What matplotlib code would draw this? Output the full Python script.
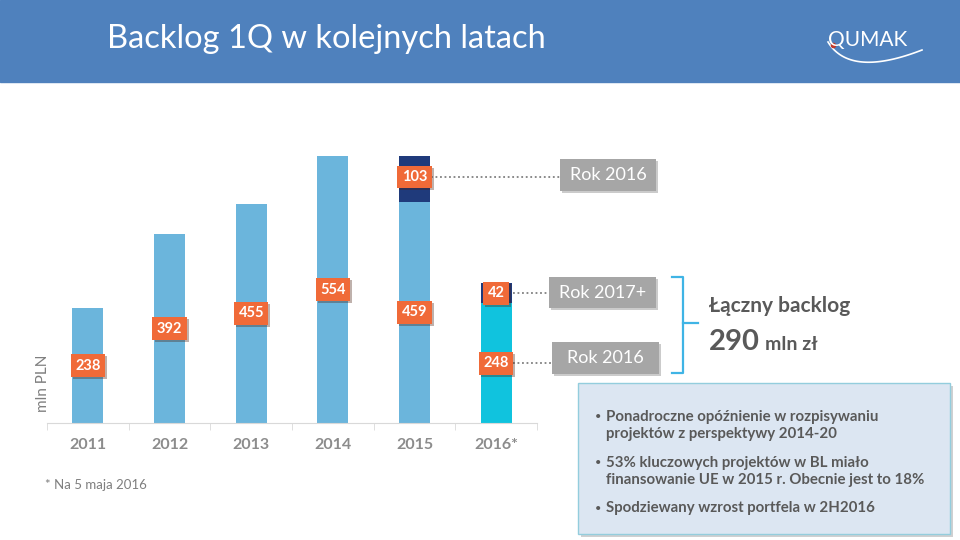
import numpy as np
import matplotlib.pyplot as plt
from matplotlib.patches import Rectangle, FancyBboxPatch
from matplotlib import patheffects as pe

plt.rcParams['font.family'] = ['Lato', 'DejaVu Sans']

years = ['2011', '2012', '2013', '2014', '2015', '2016*']
backlog = [238, 392, 455, 554, 459, 248]
top_part = [0, 0, 0, 0, 103, 42]
top_labels = ['Rok 2016', 'Rok 2017+']
low_label = 'Rok 2016'
bullets = [
    ['Ponadroczne opóźnienie w rozpisywaniu', 'projektów z perspektywy 2014-20'],
    ['53% kluczowych projektów w BL miało', 'finansowanie UE w 2015 r. Obecnie jest to 18%'],
    ['Spodziewany wzrost portfela w 2H2016'],
]

BLUE = '#6BB5DC'
CYAN = '#10C3DE'
NAVY = '#1F3A7B'
ORANGE = '#F06A38'
GRAY = '#A6A6A6'
TXT = '#595959'

W, H = 960, 540
fig = plt.figure(figsize=(9.6, 5.4), dpi=100)

# slide background / overlay in pixel coords
bg = fig.add_axes([0, 0, 1, 1], zorder=0)
bg.set_xlim(0, W)
bg.set_ylim(H, 0)
bg.axis('off')
bg.add_patch(Rectangle((0, 0), W, 82, color='#4F81BD'))
bg.text(107, 39, 'Backlog 1Q w kolejnych latach', color='white', fontsize=23.5,
        fontweight='normal', va='center', ha='left')

# logo
bg.text(868, 40, 'QUMAK', color='white', fontsize=15, ha='center', va='center')
tt = np.linspace(0, 1, 50)
p0, p1, p2 = np.array([828, 42]), np.array([850, 78]), np.array([922, 50])
curve = ((1 - tt) ** 2)[:, None] * p0 + (2 * tt * (1 - tt))[:, None] * p1 + (tt ** 2)[:, None] * p2
bg.plot(curve[:, 0], curve[:, 1], color='white', lw=1.2)
bg.plot([833], [45], 'o', color='#C0392B', ms=3)

# bar chart
ax = fig.add_axes([47 / W, (H - 423) / H, 490 / W, 267 / H], zorder=1)
ax.set_facecolor('none')
x = np.arange(len(years))
colors = [BLUE] * 5 + [CYAN]
bw = 0.38
ax.bar(x, backlog, width=bw, color=colors)
ax.bar(x, top_part, bottom=backlog, width=bw, color=NAVY)
ax.set_xlim(-0.5, len(years) - 0.5)
ax.set_ylim(0, 554)
for s in ['top', 'right', 'left']:
    ax.spines[s].set_visible(False)
ax.spines['bottom'].set_color('#D9D9D9')
ax.set_yticks([])
ax.set_xticks(x)
ax.set_xticklabels(years, color='#8C8C8C', fontsize=11.5, fontweight='bold')
ax.tick_params(axis='x', which='major', length=0, pad=11)
ax.set_xticks(np.arange(-0.5, len(years)), minor=True)
ax.tick_params(axis='x', which='minor', length=5, color='#D9D9D9')


def tag(xc, yc, s):
    t = ax.text(xc, yc, s, ha='center', va='center', color='white', fontsize=10.5,
                fontweight='bold', zorder=5, clip_on=False,
                bbox=dict(boxstyle='square,pad=0.3', fc=ORANGE, ec='none'))
    t.get_bbox_patch().set_path_effects([pe.SimplePatchShadow(offset=(1.5, -1.5), alpha=0.35), pe.Normal()])


for i in range(len(years)):
    tag(x[i], backlog[i] / 2, str(backlog[i]))
    if top_part[i]:
        tag(x[i], backlog[i] + top_part[i] / 2, str(top_part[i]))


def to_px(xd, yd):
    dx, dy = ax.transData.transform((xd, yd))
    return dx, H - dy


# gray boxes with dotted leaders
boxes = [
    (x[4], backlog[4] + top_part[4] / 2, 560, 159, 96, 32, top_labels[0]),
    (x[5], backlog[5] + top_part[5] / 2, 549, 277, 107, 31, top_labels[1]),
    (x[5], backlog[5] / 2, 552, 342, 107, 32, low_label),
]
for xd, yd, bx, by, bwid, bh, lab in boxes:
    sx, sy = to_px(xd + bw / 2, yd)
    bg.plot([sx + 1, bx], [sy, sy], color='#808080', lw=1.3, ls=(0, (1, 1.5)))
    r = Rectangle((bx, by), bwid, bh, fc=GRAY, ec='none')
    r.set_path_effects([pe.SimplePatchShadow(offset=(1.5, -1.5), alpha=0.25), pe.Normal()])
    bg.add_patch(r)
    bg.text(bx + bwid / 2, by + bh / 2, lab, color='white', fontsize=13,
            ha='center', va='center')

# bracket
bc = '#3FB4E5'
bg.plot([672, 683, 683, 672], [277, 277, 373, 373], color=bc, lw=1.6)
bg.plot([683, 698], [323, 323], color=bc, lw=1.6)
bg.text(709, 306, 'Łączny backlog', color=TXT, fontsize=15, fontweight='bold', va='center')
t290 = bg.text(709, 350, '290', color=TXT, fontsize=21, fontweight='bold', va='baseline')
bg.annotate('mln zł', xy=(1, 350), xycoords=(t290, 'data'), xytext=(4, 0),
            textcoords='offset points', color=TXT, fontsize=14, fontweight='bold', va='baseline')

# bullet box
box = FancyBboxPatch((578, 383), 372, 151, boxstyle='square,pad=0', fc='#DCE6F2',
                     ec='#93CDDD', lw=1)
box.set_path_effects([pe.SimplePatchShadow(offset=(2, -2), alpha=0.25), pe.Normal()])
bg.add_patch(box)
ys = [[417, 434], [463, 480], [508]]
for lines, yl in zip(bullets, ys):
    bg.text(595, yl[0], '•', color=TXT, fontsize=8, va='center')
    for ln, yy in zip(lines, yl):
        bg.text(606, yy, ln, color=TXT, fontsize=10.8, fontweight='bold', va='center')

# y label and footnote
bg.text(43, 383, 'mln PLN', color='#7F7F7F', fontsize=11, rotation=90, ha='center', va='center')
bg.text(45, 485, '* Na 5 maja 2016', color='#7F7F7F', fontsize=9.5, va='center')

fig.savefig('out.png', dpi=100)
